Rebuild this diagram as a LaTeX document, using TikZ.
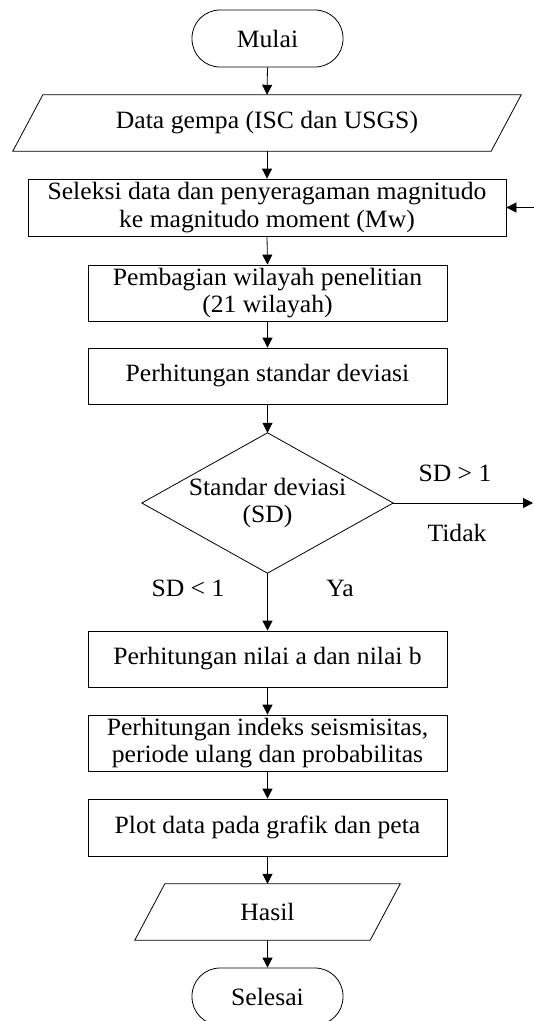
\documentclass[tikz,border=0pt]{standalone}
\usepackage{fontspec}
\setmainfont{Liberation Serif}[FakeStretch=1.03]
\usetikzlibrary{arrows.meta}
\begin{document}
\begin{tikzpicture}[x=1bp,y=-1bp,
  every node/.style={font=\fontsize{25}{27.5}\selectfont},
  ln/.style={line width=0.8bp},
  arr/.style={ln,-{Triangle[length=10bp,width=10bp]}},
  box/.style={draw,ln,inner sep=0pt,align=center,minimum height=56bp},
  wide/.style={box,minimum width=359bp},
  term/.style={draw,ln,inner sep=0pt,rounded corners=28bp,minimum width=151bp,minimum height=57bp},
  iobox/.style={inner sep=0pt,align=center,minimum height=56bp},
  lbl/.style={inner sep=0pt}
]
\useasboundingbox (0,0) rectangle (534,1021);
\node[term] (start) at (267.5,38.5) {Mulai};
\node[iobox,minimum width=508bp] (data) at (267,123) {Data gempa (ISC dan USGS)};
\draw[ln] ([xshift=30bp]data.north west) -- (data.north east) -- ([xshift=-30bp]data.south east) -- (data.south west) -- cycle;
\node[box,minimum width=478bp,minimum height=57bp] (sel) at (267,207.5) {Seleksi data dan penyeragaman magnitudo\\ke magnitudo moment (Mw)};
\node[wide] (pem) at (267.5,293) {Pembagian wilayah penelitian\\(21 wilayah)};
\node[wide] (std) at (267.5,376) {Perhitungan standar deviasi};
\node[inner sep=0pt,align=center,minimum width=251bp,minimum height=140bp] (dec) at (267.5,503) {Standar deviasi\\(SD)};
\draw[ln] (dec.north) -- (dec.east) -- (dec.south) -- (dec.west) -- cycle;
\node[wide] (nil) at (267.5,659) {Perhitungan nilai a dan nilai b};
\node[wide] (idx) at (267.5,743) {Perhitungan indeks seismisitas,\\periode ulang dan probabilitas};
\node[wide,minimum height=57bp] (plot) at (267.5,827.5) {Plot data pada grafik dan peta};
\node[iobox,minimum width=265bp] (hasil) at (267.5,912) {Hasil};
\draw[ln] ([xshift=30bp]hasil.north west) -- (hasil.north east) -- ([xshift=-30bp]hasil.south east) -- (hasil.south west) -- cycle;
\node[term] (end) at (267.5,996.5) {Selesai};
\coordinate (loopin) at (534,207.5);
\coordinate (no) at (533,503);
\draw[arr] (start.south) -- (data.north);
\draw[arr] (data.south) -- (sel.north);
\draw[arr] (loopin) -- (sel.east);
\draw[arr] (sel.south) -- (pem.north);
\draw[arr] (pem.south) -- (std.north);
\draw[arr] (std.south) -- (dec.north);
\draw[arr] (dec.east) -- (no);
\draw[arr] (dec.south) -- (nil.north);
\draw[arr] (nil.south) -- (idx.north);
\draw[arr] (idx.south) -- (plot.north);
\draw[arr] (plot.south) -- (hasil.north);
\draw[arr] (hasil.south) -- (end.north);
\node[lbl] (gt) at (455,473) {SD > 1};
\node[lbl] (tidak) at (457,533) {Tidak};
\node[lbl] (lt) at (188,588) {SD < 1};
\node[lbl] (ya) at (340,588) {Ya};
\end{tikzpicture}
\end{document}
